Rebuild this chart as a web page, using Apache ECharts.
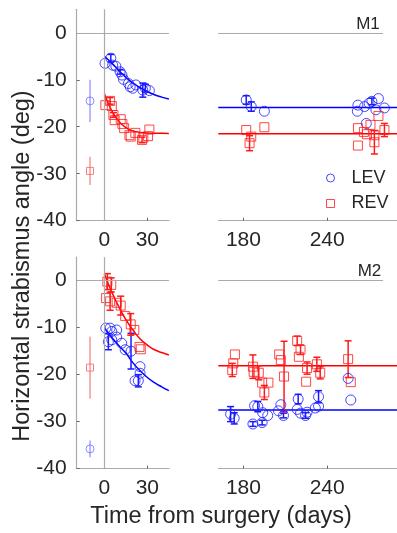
<!DOCTYPE html>
<html><head><meta charset="utf-8">
<script src="https://cdn.jsdelivr.net/npm/echarts@6/dist/echarts.min.js"></script>
<style>html,body{margin:0;padding:0;background:#fff}#c{width:397px;height:533px}</style>
</head><body><div id="c"></div>
<script>
// ---------- DATA ----------
// [day, angle (deg), error half-width (0 = none)]
const m1PreLEV = [[-10, -14.5, 4.5]];
const m1PreREV = [[-10, -29.4, 3.0]];
const m2PreLEV = [[-10, -35.8, 1.8]];
const m2PreREV = [[-10, -18.5, 6.6]];

const m1EarlyLEV = [[0.5,-6.5,0],[4.5,-5.4,0.8],[5.8,-6.9,0],[8,-7.1,0],[11,-8.3,0.5],[12.3,-9,0],[13.3,-9.9,0],[16.8,-10.8,0],[18,-11.5,0],[19.8,-11.8,0],[22,-11.1,0],[26.8,-12.2,1.5],[28.6,-11.8,0.8],[31.4,-12.3,0]];
const m1EarlyREV = [[0.7,-15.4,0],[4,-14.5,0.7],[5.2,-15.6,0],[6.3,-17.5,0.5],[7.2,-18.6,0],[11.4,-18.4,0],[12.6,-19.4,0],[13.8,-20.3,0],[17.5,-21.8,0],[18.4,-22.1,0],[21.6,-21.3,0],[26.3,-22.8,0.6],[27.2,-22.3,0],[30.5,-22,0],[31.4,-20.6,0]];
const m1LateLEV = [[182,-14.3,0.9],[185.6,-15.7,1],[195,-16.7,0],[261.6,-16.7,0],[262,-15.4,0],[266.8,-15.7,0],[270,-15,0],[272,-14.6,0.7],[276.7,-14,0],[274.9,-16.4,0],[281,-16,0],[268,-19.3,0]];
const m1LateREV = [[182,-20.7,0],[185.6,-22.1,0],[184.4,-23.5,1.6],[195,-20.1,0],[262,-20.3,0],[262,-24,0],[266.3,-21.1,0],[268.5,-21.6,0],[271,-19.6,0],[273.8,-21.8,0],[273.8,-23.3,2.5],[276.7,-17.7,0],[281,-20.7,1.4]];

const m2EarlyLEV = [[1,-10.1,0],[4,-10.1,0],[5.2,-10.8,0],[8.6,-10.5,0],[2.8,-13,1.7],[5.2,-12.6,0],[8.6,-12,0],[12.1,-13.3,0],[14.5,-14.7,0],[18.6,-15,3.8],[24.9,-18.3,0],[24.9,-19.7,0],[21.4,-21.3,0],[23.7,-21.3,1.3]];
const m2EarlyREV = [[2.1,-0.2,1.7],[4.8,-0.9,1.5],[1.2,-3.7,0],[4,-4.4,1.9],[8.6,-4.7,0],[11.4,-5.3,2],[14.5,-7.5,0],[18.4,-9.3,2.3],[20.9,-10.5,0],[24.5,-14.1,0],[25.4,-14.6,0]];
const m2LateLEV = [[170.8,-28.4,1.6],[173.4,-29.3,1.2],[188,-26.6,0],[190.3,-26.8,1.1],[193.8,-28.1,0],[197.4,-28.7,0],[186.8,-30.5,0.5],[193.4,-30.2,0.5],[205.1,-27.7,0],[206.8,-26.4,0],[208.7,-28.7,0.5],[219.2,-25.2,1],[218.5,-27.4,0],[220.9,-28.2,0],[224.5,-28.7,0.6],[225.6,-28,0],[231.5,-27.1,0],[233.8,-26.7,0],[233.8,-24.7,1.3],[255,-20.8,0],[256.9,-25.4,0]];
const m2LateREV = [[173.9,-15.7,0],[172.7,-17.6,0],[172,-19,1.4],[186.8,-18.3,2.5],[187.3,-19.4,0],[191,-19.6,1.5],[193.4,-21.7,0],[197.9,-21.7,0],[195,-23.8,1.5],[205.6,-15.7,0],[206.8,-16.9,0],[209.1,-20.4,7.5],[218.5,-12.8,1],[220.9,-14.7,1],[219.7,-16.2,0],[225.6,-18.6,1.3],[224.9,-21.5,0],[232.6,-17.8,1.5],[235,-19.6,1.3],[255,-16.7,3.9],[256.9,-21.6,0]];

// fitted curves
const fitDays = [0,5,10,15,20,25,30,35,40,45];
const m1FitLEV = [-5.0,-6.4,-8.0,-9.5,-10.7,-11.7,-12.5,-13.2,-13.7,-14.1];
const m1FitREV = [-13,-16.5,-18.8,-20.2,-20.9,-21.2,-21.35,-21.4,-21.4,-21.45];
const m2FitLEV = [-10,-12,-13.8,-15.4,-17.5,-19.2,-20.6,-21.7,-22.6,-23.4];
const m2FitREV = [1.5,-2.3,-5.5,-8.3,-10.5,-12.4,-13.7,-14.7,-15.3,-15.8];
const lateDays = [162, 290];
const m1LateLevelLEV = -15.9, m1LateLevelREV = -21.5;
const m2LateLevelLEV = -27.5, m2LateLevelREV = -18.1;
const refLineRight = [162, 280];

const earlyTicks = [0, 30];
const lateTicks = [180, 240];
const yTicks = [-40, -30, -20, -10, 0];

// ---------- CHART ----------
const FONT = "'Liberation Sans', Arial, Helvetica, sans-serif";
const BLUE = '#1a1aff', RED = '#ff1a1a', BLUE_L = '#7373ff', RED_L = '#f06464';
const AX = '#aaaaaa', TXT = '#262626';

const grids = [
  {left: 76.7, top: 9.3, width: 92.3, height: 211.4},
  {left: 218.3, top: 9.3, width: 181.3, height: 211.4},
  {left: 76.7, top: 257.2, width: 92.3, height: 211.4},
  {left: 218.3, top: 257.2, width: 181.3, height: 211.4}
];
function xAx(i, min, max, ticks) {
  return {type:'value', gridIndex:i, min, max,
    axisLine:{show:true, onZero:false, lineStyle:{color:AX, width:1.2}},
    axisTick:{show:true, inside:true, length:3, customValues:ticks, lineStyle:{color:'#666'}},
    axisLabel:{customValues:ticks, color:TXT, fontSize:21, fontFamily:FONT, margin:9},
    splitLine:{show:false}};
}
function yAx(i, show) {
  return {type:'value', gridIndex:i, min:-40, max:5,
    axisLine:{show:show, onZero:false, lineStyle:{color:AX, width:1.2}},
    axisTick:{show:show, inside:true, length:3, customValues:yTicks, lineStyle:{color:'#666'}},
    axisLabel:{show:show, customValues:yTicks, color:TXT, fontSize:21, fontFamily:FONT, margin:10},
    splitLine:{show:false}};
}
function pairs(xs, ys) { return xs.map((x, k) => [x, ys[k]]); }
function scat(name, data, i, color, symbol, size, bw) {
  return {type:'scatter', name, xAxisIndex:i, yAxisIndex:i, data:data.map(d => [d[0], d[1]]),
    symbol, symbolSize:size, itemStyle:{color:'rgba(0,0,0,0)', borderColor:color, borderWidth:bw},
    emphasis:{disabled:true}, silent:true, z:4};
}
function errs(data, i, color, cap, lw) {
  return {type:'custom', xAxisIndex:i, yAxisIndex:i, data:data.filter(d => d[2] > 0),
    encode:{x:0, y:1}, silent:true, z:3,
    renderItem:(p, api) => {
      const x = api.value(0), y = api.value(1), e = api.value(2);
      const a = api.coord([x, y + e]), b = api.coord([x, y - e]);
      const st = {stroke:color, lineWidth:lw};
      const ch = [{type:'line', shape:{x1:a[0], y1:a[1], x2:b[0], y2:b[1]}, style:st}];
      if (cap) {
        ch.push({type:'line', shape:{x1:a[0]-cap, y1:a[1], x2:a[0]+cap, y2:a[1]}, style:st});
        ch.push({type:'line', shape:{x1:b[0]-cap, y1:b[1], x2:b[0]+cap, y2:b[1]}, style:st});
      }
      return {type:'group', children:ch};
    }};
}
function fit(data, i, color) {
  return {type:'line', xAxisIndex:i, yAxisIndex:i, data, smooth:true, showSymbol:false,
    lineStyle:{color, width:1.5}, silent:true, z:2, animation:false};
}
function refLeft(i) {
  return {type:'line', xAxisIndex:i, yAxisIndex:i, data:[], silent:true,
    markLine:{silent:true, symbol:'none', animation:false, label:{show:false},
      lineStyle:{color:AX, width:1.2, type:'solid'},
      data:[{yAxis:0}, {xAxis:0}]}};
}
function refRight(i) {
  return {type:'line', xAxisIndex:i, yAxisIndex:i, data:[], silent:true,
    markLine:{silent:true, symbol:'none', animation:false, label:{show:false},
      lineStyle:{color:AX, width:1.2, type:'solid'},
      data:[[{coord:[refLineRight[0], 0]}, {coord:[refLineRight[1], 0]}]]}};
}
const flat = v => lateDays.map(d => [d, v]);

const series = [
  refLeft(0), refRight(1), refLeft(2), refRight(3),
  // M1 early
  fit(pairs(fitDays, m1FitLEV), 0, '#0000ff'), fit(pairs(fitDays, m1FitREV), 0, '#ff0000'),
  errs(m1PreLEV, 0, BLUE_L, 0, 1), errs(m1PreREV, 0, RED_L, 0, 1),
  scat('preLEV1', m1PreLEV, 0, BLUE_L, 'circle', 8, 1), scat('preREV1', m1PreREV, 0, RED_L, 'rect', 7, 1),
  errs(m1EarlyLEV, 0, BLUE, 3.5, 1.5), errs(m1EarlyREV, 0, RED, 3.5, 1.5),
  scat('LEV', m1EarlyLEV, 0, BLUE, 'circle', 10, 1), scat('REV', m1EarlyREV, 0, RED, 'rect', 9, 1),
  // M1 late
  fit(flat(m1LateLevelLEV), 1, '#0000ff'), fit(flat(m1LateLevelREV), 1, '#ff0000'),
  errs(m1LateLEV, 1, BLUE, 3.5, 1.5), errs(m1LateREV, 1, RED, 3.5, 1.5),
  scat('LEV1b', m1LateLEV, 1, BLUE, 'circle', 10, 1), scat('REV1b', m1LateREV, 1, RED, 'rect', 9, 1),
  // M2 early
  fit(pairs(fitDays, m2FitLEV), 2, '#0000ff'), fit(pairs(fitDays, m2FitREV), 2, '#ff0000'),
  errs(m2PreLEV, 2, BLUE_L, 0, 1), errs(m2PreREV, 2, RED_L, 0, 1),
  scat('preLEV2', m2PreLEV, 2, BLUE_L, 'circle', 8, 1), scat('preREV2', m2PreREV, 2, RED_L, 'rect', 7, 1),
  errs(m2EarlyLEV, 2, BLUE, 3.5, 1.5), errs(m2EarlyREV, 2, RED, 3.5, 1.5),
  scat('LEV2', m2EarlyLEV, 2, BLUE, 'circle', 10, 1), scat('REV2', m2EarlyREV, 2, RED, 'rect', 9, 1),
  // M2 late
  fit(flat(m2LateLevelLEV), 3, '#0000ff'), fit(flat(m2LateLevelREV), 3, '#ff0000'),
  errs(m2LateLEV, 3, BLUE, 3.5, 1.5), errs(m2LateREV, 3, RED, 3.5, 1.5),
  scat('LEV2b', m2LateLEV, 3, BLUE, 'circle', 10, 1), scat('REV2b', m2LateREV, 3, RED, 'rect', 9, 1)
];

const chart = echarts.init(document.getElementById('c'));
chart.setOption({
  animation:false,
  backgroundColor:'#fff',
  grid:grids,
  xAxis:[xAx(0, -19.3, 45.1, earlyTicks), xAx(1, 162, 290, lateTicks), xAx(2, -19.3, 45.1, earlyTicks), xAx(3, 162, 290, lateTicks)],
  yAxis:[yAx(0, true), yAx(1, false), yAx(2, true), yAx(3, false)],
  legend:{orient:'vertical', left:321, top:164, itemWidth:20, itemHeight:8, itemGap:7.5,
    selectedMode:false, textStyle:{fontSize:18, fontFamily:FONT, color:TXT, padding:[0,0,0,6]},
    data:[{name:'LEV', icon:'circle', itemStyle:{color:'rgba(0,0,0,0)', borderColor:BLUE, borderWidth:1}},
          {name:'REV', icon:'path://M0,0L10,0L10,10L0,10Z', itemStyle:{color:'rgba(0,0,0,0)', borderColor:RED, borderWidth:1}}]},
  graphic:[
    {type:'text', x:368, y:24, style:{text:'M1', font:`17px ${FONT}`, fill:TXT, textAlign:'center', textVerticalAlign:'middle'}},
    {type:'text', x:369.5, y:271, style:{text:'M2', font:`17px ${FONT}`, fill:TXT, textAlign:'center', textVerticalAlign:'middle'}},
    {type:'text', x:221, y:517, style:{text:'Time from surgery (days)', font:`23.5px ${FONT}`, fill:TXT, textAlign:'center', textVerticalAlign:'middle'}},
    {type:'text', x:23, y:266, rotation:Math.PI/2, style:{text:'Horizontal strabismus angle (deg)', font:`23.5px ${FONT}`, fill:TXT, textAlign:'center', textVerticalAlign:'middle'}}
  ],
  series
});
</script></body></html>
